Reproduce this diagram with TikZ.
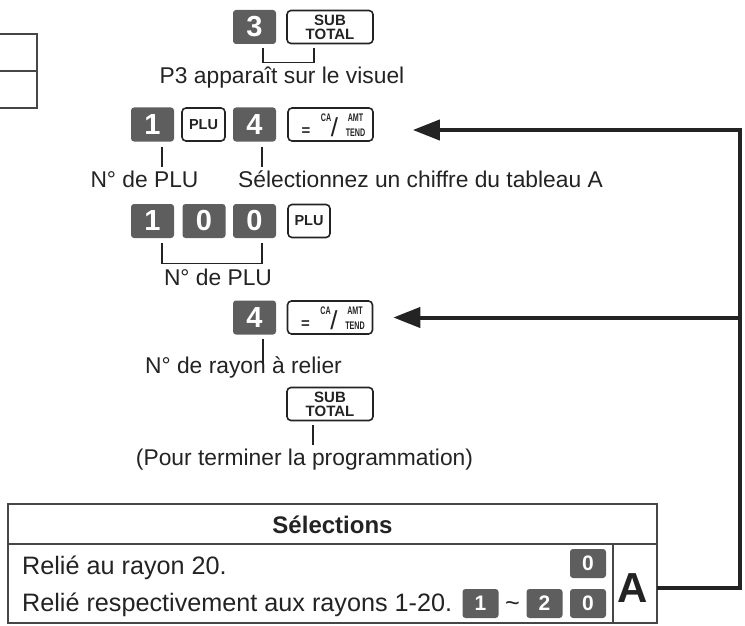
\documentclass[tikz,border=0pt]{standalone}
\usepackage{fontspec}
\usepackage{graphicx}
\setmainfont{Liberation Sans}
\usetikzlibrary{arrows.meta, positioning, calc}
\definecolor{keygray1}{RGB}{94, 94, 94}
\definecolor{ink1}{RGB}{35, 35, 35}
\definecolor{rule1}{RGB}{70, 70, 70}

\newcommand{\subtotal}{SUB\\TOTAL}
\newcommand{\narrowkey}[1]{\scalebox{0.65}[1]{#1}}

\begin{document}
\begin{tikzpicture}[x=1pt, y=-1pt,
  darkkey/.style={fill=keygray1, rounded corners=3pt, text=white,
    font=\bfseries\fontsize{29}{29}\selectfont, minimum width=43pt, minimum height=34pt, inner sep=0pt},
  lightkey/.style={draw=ink1, line width=1.6pt, rounded corners=4pt, fill=white, text=ink1,
    minimum height=33pt, inner sep=0pt, align=center},
  keytext/.style={text=ink1, inner sep=0pt, font=\bfseries\fontsize{11}{11}\selectfont},
  tabkey/.style={darkkey, minimum width=36pt, minimum height=29pt, font=\bfseries\fontsize{21}{21}\selectfont},
  lbl/.style={text=ink1, font=\fontsize{22.8}{26}\selectfont, inner sep=0pt, anchor=base},
  rowtext/.style={lbl, font=\fontsize{25.2}{27}\selectfont, anchor=base west},
  lead/.style={draw=ink1, line width=1.1pt},
  grid1/.style={draw=rule1, line width=1.3pt},
  feed/.style={draw=ink1, line width=4pt, -{Triangle[length=27pt, width=20pt]}},
  catend/.pic={
    \node[lightkey, minimum width=85pt] (-key) at (0,0) {};
    \node[keytext, font=\bfseries\fontsize{15}{15}\selectfont] at (-24.5,7.5) {=};
    \node[keytext] at (-4.5,-6.5) {\narrowkey{CA}};
    \node[keytext, font=\fontsize{26}{26}\selectfont] at (4,2.5) {/};
    \node[keytext] at (25,-6.5) {\narrowkey{AMT}};
    \node[keytext] at (25,8) {\narrowkey{TEND}};
  },
]
\useasboundingbox (0,0) rectangle (745,626);

% cut-off table at the top left
\draw[grid1] (0,34) -| (37,108) -- (0,108) (0,71) -- (37,71);

% keys
\node[darkkey] (p3key) at (254.5,27) {3};
\node[lightkey, minimum width=86pt, font=\bfseries\fontsize{15}{14}\selectfont] (sub1) at (330,27) {\subtotal};

\node[darkkey] (plukey1) at (152.5,124.5) {1};
\node[lightkey, minimum width=43pt, font=\bfseries\fontsize{14.5}{14.5}\selectfont] (plu1) at (203.5,124.5) {PLU};
\node[darkkey] (dept1) at (254.5,124.5) {4};
\pic (ca1) at (330.5,124.5) {catend};

\node[darkkey] (pluA) at (152.5,221) {1};
\node[darkkey] (pluB) at (204,221) {0};
\node[darkkey] (pluC) at (254.5,221) {0};
\node[lightkey, minimum width=42pt, font=\bfseries\fontsize{14.5}{14.5}\selectfont] (plu2) at (309,221) {PLU};

\node[darkkey] (dept2) at (254.5,317.5) {4};
\pic (ca2) at (330,317.5) {catend};

\node[lightkey, minimum width=86pt, font=\bfseries\fontsize{15}{14}\selectfont] (sub2) at (330,404) {\subtotal};

% labels
\node[lbl] (shown) at (282,84) {P3 apparaît sur le visuel};
\node[lbl] (pluno1) at (144.5,187) {N° de PLU};
\node[lbl, anchor=base west] (pickA) at (238,187.5) {Sélectionnez un chiffre du tableau A};
\node[lbl] (pluno2) at (218,285) {N° de PLU};
\node[lbl] (deptno) at (243.5,373) {N° de rayon à relier};
\node[lbl] (finish) at (304.5,465) {(Pour terminer la programmation)};

% leads
\draw[lead] ($(p3key.south)+(8.5,4)$) -- ++(0,14) -| ($(sub1.south)+(-16,4)$);
\draw[lead] ($(plukey1.south)+(9.5,5)$) -- ++(0,20);
\draw[lead] ($(dept1.south)+(7.5,5)$) -- ++(0,20);
\draw[lead] ($(pluA.south)+(9.5,5)$) -- ++(0,20) -| ($(pluC.south)+(7.5,5)$);
\draw[lead] ($(dept2.south)+(8.5,4)$) -- ++(0,24);
\draw[lead] ($(sub2.south)+(-17,4)$) -- ++(0,20);

% table of selections
\draw[grid1] (8,504) rectangle (657,623) (8,544) -- (657,544) (613,544) -- (613,623);
\node[lbl, font=\bfseries\fontsize{24}{26}\selectfont] (seltitle) at (332.5,533) {Sélections};
\node[rowtext] (row1) at (22,574) {Relié au rayon 20.};
\node[rowtext] (row2) at (22,611) {Relié respectivement aux rayons 1-20.};
\node[tabkey] (zero1) at (588,563.5) {0};
\node[tabkey] (one2) at (480.5,603.5) {1};
\node[rowtext, anchor=base] (upto) at (512.5,611) {\textasciitilde};
\node[tabkey] (two2) at (544.5,603.5) {2};
\node[tabkey] (zero2) at (588,603.5) {0};
\node[minimum width=44pt, minimum height=79pt, inner sep=0pt] (cellA) at (635,583.5) {};
\node[lbl, font=\bfseries\fontsize{42}{42}\selectfont] (tabA) at (633,602) {A};

% return lines
\coordinate (bus) at (740,400);
\draw[feed, shorten >=39pt] ([yshift=-4pt]cellA.east) -| (bus) |- ([yshift=-5.5pt]ca1-key.east);
\draw[feed, shorten >=20pt] (bus |- ca2-key.east) -- (ca2-key.east);
\end{tikzpicture}
\end{document}
